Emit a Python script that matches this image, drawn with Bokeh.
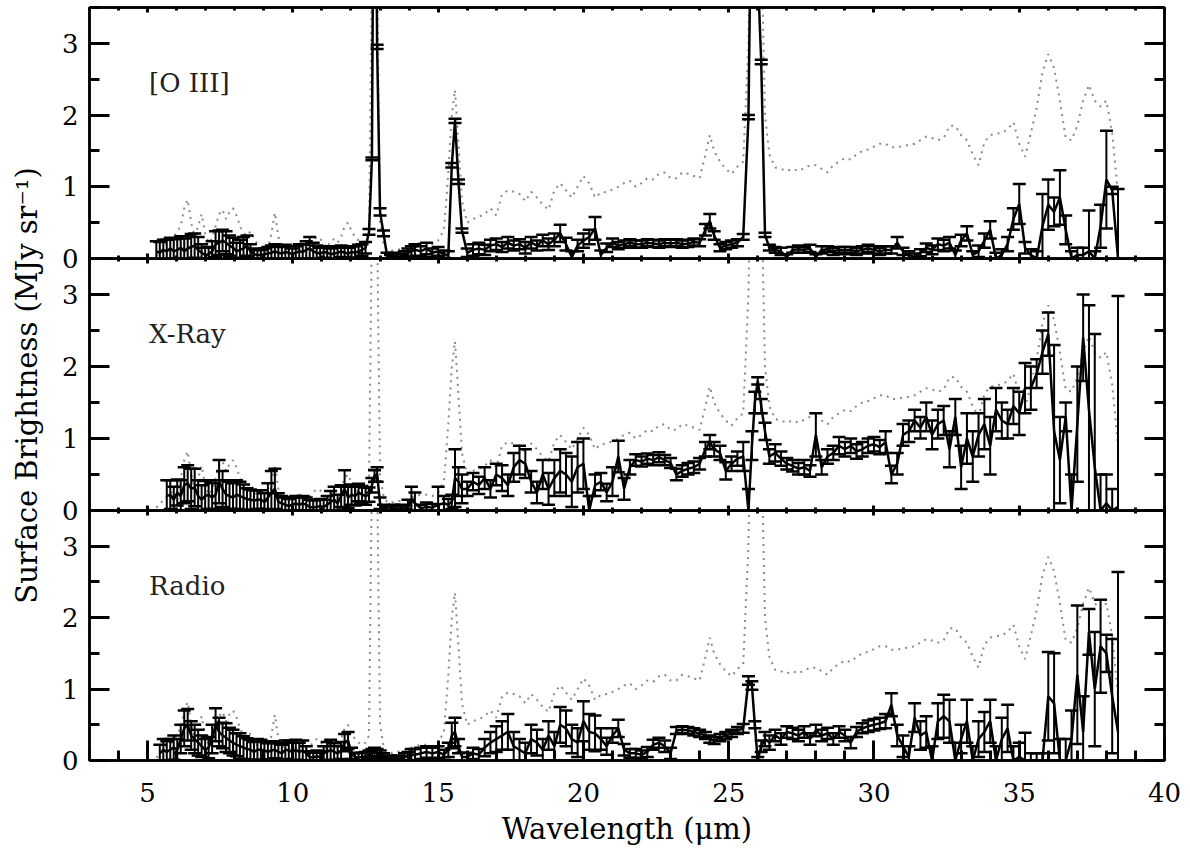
import math
from bokeh.plotting import figure
from bokeh.models import Range1d, LinearAxis, SingleIntervalTicker, Label
from bokeh.layouts import column, row
from bokeh.embed import file_html
from bokeh.resources import INLINE

nan = float("nan")

# ---------------- data ----------------
panel_names = ["[O III]", "X-Ray", "Radio"]
x_label = "Wavelength (\u03bcm)"
y_label = "Surface Brightness (MJy sr\u207b\u00b9)"

# short-wavelength grid
wl_sl = [
    5.30, 5.42, 5.54, 5.66, 5.78, 5.90, 6.02, 6.14, 6.26, 6.38,
    6.50, 6.62, 6.74, 6.86, 6.98, 7.10, 7.22, 7.34, 7.46, 7.58,
    7.70, 7.82, 7.94, 8.06, 8.18, 8.30, 8.42, 8.54, 8.66, 8.78,
    8.90, 9.02, 9.14, 9.26, 9.38, 9.50, 9.62, 9.74, 9.86, 9.98,
    10.10, 10.22, 10.34, 10.46, 10.58, 10.70, 10.82, 10.94, 11.06, 11.18,
    11.30, 11.42, 11.54, 11.66, 11.78, 11.90, 12.02, 12.14, 12.26, 12.38,
    12.50, 12.62, 12.72, 12.81, 12.90, 13.00, 13.12, 13.24, 13.36, 13.48,
    13.60, 13.72, 13.84, 13.96, 14.08]
# long-wavelength grid
wl_ll = [
    14.20, 14.40, 14.60, 14.80, 15.00, 15.20, 15.35, 15.47, 15.58, 15.70, 15.82,
    16.00, 16.20, 16.40, 16.60, 16.80, 17.00, 17.20, 17.40, 17.60, 17.80,
    18.00, 18.20, 18.40, 18.60, 18.80, 19.00, 19.20, 19.40, 19.60, 19.80,
    20.00, 20.20, 20.40, 20.60, 20.80, 21.00, 21.20, 21.40, 21.60, 21.80,
    22.00, 22.20, 22.40, 22.60, 22.80, 23.00, 23.20, 23.40, 23.60, 23.80,
    24.00, 24.20, 24.35, 24.50, 24.70, 24.90, 25.10, 25.30, 25.50, 25.68,
    25.80, 25.90, 26.00, 26.12, 26.25, 26.40, 26.60, 26.80, 27.00, 27.20,
    27.40, 27.60, 27.80, 28.00, 28.20, 28.40, 28.60, 28.80, 29.00, 29.20,
    29.40, 29.60, 29.80, 30.00, 30.20, 30.40, 30.60, 30.80, 31.00, 31.20,
    31.40, 31.60, 31.80, 32.00, 32.20, 32.40, 32.60, 32.80, 33.00, 33.20,
    33.40, 33.60, 33.80, 34.00, 34.20, 34.40, 34.60, 34.80, 35.00, 35.20,
    35.40, 35.60, 35.80, 36.00, 36.20, 36.40, 36.60, 36.80, 37.00, 37.20,
    37.40, 37.60, 37.80, 38.00, 38.20, 38.40]

# dotted comparison spectrum (same in all panels)
ref_sl = [
    0.04, 0.08, 0.15, 0.20, 0.22, 0.30, 0.38, 0.45, 0.70, 0.82,
    0.50, 0.30, 0.45, 0.62, 0.35, 0.22, 0.28, 0.45, 0.62, 0.68,
    0.55, 0.65, 0.70, 0.60, 0.45, 0.35, 0.32, 0.38, 0.28, 0.20,
    0.15, 0.12, 0.14, 0.35, 0.64, 0.30, 0.20, 0.18, 0.16, 0.15,
    0.18, 0.22, 0.20, 0.15, 0.20, 0.25, 0.30, 0.28, 0.20, 0.15,
    0.25, 0.27, 0.22, 0.30, 0.45, 0.50, 0.38, 0.30, 0.25, 0.22,
    0.25, 0.35, 4.00, 9.00, 4.00, 0.50, 0.20, 0.12, 0.10, 0.12,
    0.12, 0.14, 0.15, 0.15, 0.18]
ref_ll = [
    0.20, 0.22, 0.22, 0.20, 0.25, 0.40, 1.20, 2.00, 2.35, 1.60, 0.80,
    0.50, 0.55, 0.58, 0.62, 0.70, 0.60, 0.90, 0.95, 0.93, 0.90,
    0.80, 0.93, 0.85, 0.75, 0.68, 0.95, 1.05, 0.95, 0.85, 1.00,
    1.15, 1.05, 0.85, 0.92, 0.93, 0.96, 1.00, 1.05, 1.08, 1.00,
    1.05, 1.12, 1.10, 1.18, 1.20, 1.12, 1.12, 1.20, 1.18, 1.15,
    1.12, 1.45, 1.72, 1.50, 1.35, 1.25, 1.18, 1.28, 1.35, 3.00,
    6.00, 9.00, 7.00, 4.50, 2.00, 1.45, 1.27, 1.25, 1.22, 1.25,
    1.22, 1.26, 1.30, 1.30, 1.25, 1.20, 1.30, 1.35, 1.40, 1.38,
    1.45, 1.50, 1.52, 1.56, 1.60, 1.60, 1.55, 1.55, 1.57, 1.58,
    1.60, 1.65, 1.70, 1.68, 1.65, 1.68, 1.85, 1.85, 1.72, 1.65,
    1.45, 1.30, 1.62, 1.72, 1.74, 1.75, 1.80, 1.90, 1.60, 1.42,
    1.75, 2.10, 2.60, 2.85, 2.65, 2.20, 1.68, 1.65, 1.85, 2.20,
    2.42, 2.20, 2.12, 2.20, 1.75, 0.90]

# [O III] region
oiii_sl = [
    0.10, 0.08, 0.12, 0.10, 0.14, 0.10, 0.12, 0.15, 0.10, 0.14,
    0.16, 0.18, 0.12, 0.08, 0.05, 0.06, 0.10, 0.20, 0.22, 0.25,
    0.22, 0.18, 0.15, 0.10, 0.12, 0.14, 0.18, 0.10, 0.06, 0.05,
    0.05, 0.06, 0.07, 0.08, 0.10, 0.08, 0.07, 0.09, 0.08, 0.06,
    0.08, 0.10, 0.09, 0.12, 0.14, 0.10, 0.08, 0.07, 0.09, 0.08,
    0.06, 0.07, 0.08, 0.10, 0.08, 0.07, 0.09, 0.08, 0.10, 0.12,
    0.15, 0.37, 1.39, 8.00, 2.95, 0.65, 0.35, 0.04, 0.02, 0.04,
    0.03, 0.02, 0.05, 0.08, 0.10]
oiii_err_sl = [
    0.14, 0.15, 0.14, 0.16, 0.15, 0.17, 0.16, 0.16, 0.18, 0.17,
    0.18, 0.17, 0.18, 0.12, 0.10, 0.10, 0.14, 0.18, 0.17, 0.15,
    0.16, 0.14, 0.14, 0.12, 0.14, 0.16, 0.14, 0.10, 0.08, 0.07,
    0.07, 0.08, 0.09, 0.10, 0.10, 0.10, 0.09, 0.10, 0.09, 0.08,
    0.09, 0.10, 0.10, 0.12, 0.16, 0.12, 0.10, 0.08, 0.08, 0.09,
    0.08, 0.08, 0.09, 0.08, 0.08, 0.08, 0.08, 0.09, 0.09, 0.08,
    0.08, 0.04, 0.02, 0.20, 0.03, 0.05, 0.04, 0.04, 0.03, 0.04,
    0.04, 0.04, 0.05, 0.06, 0.07]
oiii_ll = [
    0.12, 0.10, 0.14, 0.08, 0.10, 0.06, 0.05, 1.30, 1.92, 1.07, 0.39,
    0.08, 0.12, 0.14, 0.12, 0.18, 0.20, 0.16, 0.22, 0.18, 0.20,
    0.15, 0.22, 0.18, 0.25, 0.20, 0.26, 0.35, 0.20, 0.02, 0.18,
    0.25, 0.30, 0.42, 0.05, 0.15, 0.22, 0.18, 0.20, 0.22, 0.20,
    0.20, 0.22, 0.21, 0.20, 0.22, 0.21, 0.22, 0.20, 0.21, 0.23,
    0.22, 0.40, 0.52, 0.32, 0.15, 0.18, 0.20, 0.22, 0.30, 1.97,
    6.00, 9.00, 4.00, 2.74, 0.33, 0.15, 0.12, 0.10, 0.02, 0.12,
    0.13, 0.12, 0.14, 0.02, 0.12, 0.13, 0.10, 0.12, 0.11, 0.12,
    0.10, 0.12, 0.14, 0.12, 0.10, 0.12, 0.12, 0.22, 0.10, 0.05,
    0.02, 0.08, 0.15, 0.12, 0.20, 0.18, 0.22, 0.05, 0.25, 0.35,
    0.05, 0.10, 0.25, 0.40, 0.00, 0.05, 0.20, 0.55, 0.76, 0.15,
    0.05, 0.00, 0.45, 0.75, 0.65, 0.85, 0.40, 0.00, 0.05, 0.05,
    0.10, 0.00, 0.45, 1.10, 0.95, 0.00]
oiii_err_ll = [
    0.08, 0.07, 0.08, 0.06, 0.06, 0.05, 0.05, 0.03, 0.03, 0.03, 0.03,
    0.06, 0.08, 0.08, 0.07, 0.08, 0.08, 0.07, 0.08, 0.07, 0.07,
    0.08, 0.08, 0.07, 0.08, 0.08, 0.09, 0.12, 0.09, 0.08, 0.08,
    0.10, 0.10, 0.16, 0.06, 0.06, 0.06, 0.05, 0.05, 0.05, 0.05,
    0.05, 0.05, 0.05, 0.05, 0.05, 0.05, 0.05, 0.05, 0.05, 0.05,
    0.05, 0.08, 0.10, 0.06, 0.05, 0.05, 0.05, 0.05, 0.04, 0.03,
    0.10, 0.20, 0.05, 0.03, 0.03, 0.04, 0.04, 0.05, 0.04, 0.04,
    0.05, 0.04, 0.05, 0.04, 0.05, 0.04, 0.05, 0.04, 0.05, 0.04,
    0.05, 0.05, 0.05, 0.05, 0.05, 0.05, 0.05, 0.08, 0.05, 0.05,
    0.05, 0.05, 0.06, 0.06, 0.08, 0.08, 0.08, 0.06, 0.08, 0.10,
    0.05, 0.08, 0.10, 0.12, 0.08, 0.08, 0.10, 0.15, 0.28, 0.08,
    0.08, 0.10, 0.45, 0.35, 0.20, 0.38, 0.20, 0.10, 0.10, 0.10,
    0.57, 0.10, 0.30, 0.68, 0.05, 0.97]

# X-ray region
xray_sl = [
    nan, nan, nan, 0.20, 0.22, 0.15, 0.25, 0.20, 0.35, 0.38,
    0.30, 0.32, 0.20, 0.15, 0.20, 0.22, 0.18, 0.22, 0.40, 0.30,
    0.22, 0.20, 0.18, 0.22, 0.20, 0.18, 0.16, 0.15, 0.14, 0.15,
    0.15, 0.12, 0.18, 0.25, 0.30, 0.12, 0.10, 0.08, 0.06, 0.08,
    0.10, 0.08, 0.10, 0.08, 0.05, 0.04, 0.05, 0.06, 0.05, 0.08,
    0.12, 0.15, 0.10, 0.20, 0.30, 0.18, 0.22, 0.20, 0.25, 0.22,
    0.20, 0.22, 0.35, 0.48, 0.50, 0.10, 0.02, 0.00, 0.02, 0.03,
    0.02, 0.03, 0.02, 0.05, 0.15]
xray_err_sl = [
    0.00, 0.00, 0.00, 0.22, 0.20, 0.18, 0.18, 0.22, 0.25, 0.25,
    0.28, 0.26, 0.22, 0.20, 0.21, 0.20, 0.20, 0.20, 0.30, 0.25,
    0.20, 0.20, 0.20, 0.20, 0.20, 0.18, 0.15, 0.14, 0.14, 0.13,
    0.13, 0.12, 0.20, 0.30, 0.28, 0.12, 0.10, 0.10, 0.10, 0.10,
    0.10, 0.10, 0.10, 0.10, 0.10, 0.10, 0.10, 0.10, 0.10, 0.12,
    0.15, 0.18, 0.12, 0.15, 0.26, 0.15, 0.14, 0.13, 0.12, 0.12,
    0.12, 0.10, 0.10, 0.08, 0.10, 0.08, 0.06, 0.05, 0.05, 0.05,
    0.04, 0.05, 0.05, 0.10, 0.18]
xray_ll = [
    0.10, 0.03, 0.05, 0.04, 0.08, 0.10, 0.08, 0.12, 0.45, 0.40, 0.30,
    0.30, 0.40, 0.35, 0.45, 0.30, 0.50, 0.45, 0.35, 0.60, 0.70,
    0.65, 0.40, 0.25, 0.50, 0.30, 0.45, 0.55, 0.50, 0.40, 0.60,
    0.65, 0.00, 0.35, 0.40, 0.25, 0.40, 0.75, 0.30, 0.60, 0.70,
    0.68, 0.72, 0.70, 0.74, 0.70, 0.66, 0.50, 0.55, 0.58, 0.60,
    0.65, 0.85, 0.95, 0.85, 0.80, 0.55, 0.65, 0.72, 0.75, 0.00,
    0.90, 1.50, 1.80, 1.45, 1.10, 0.75, 0.80, 0.72, 0.65, 0.62,
    0.58, 0.60, 0.55, 1.05, 0.60, 0.75, 0.80, 0.90, 0.85, 0.90,
    0.82, 0.85, 0.90, 0.92, 0.88, 0.95, 0.50, 0.65, 1.05, 1.10,
    1.25, 1.15, 1.30, 1.05, 1.20, 1.25, 0.85, 1.30, 0.60, 1.00,
    0.75, 1.05, 1.20, 0.90, 1.40, 1.25, 1.20, 1.45, 1.35, 1.70,
    1.70, 1.90, 2.20, 2.45, 1.10, 0.70, 1.30, 0.00, 1.20, 2.40,
    1.40, 0.60, 0.00, 0.10, 0.00, 0.05]
xray_err_ll = [
    0.15, 0.05, 0.06, 0.05, 0.25, 0.10, 0.08, 0.10, 0.40, 0.20, 0.20,
    0.10, 0.12, 0.12, 0.15, 0.12, 0.15, 0.18, 0.15, 0.20, 0.20,
    0.20, 0.15, 0.15, 0.20, 0.22, 0.25, 0.30, 0.30, 0.35, 0.35,
    0.35, 0.20, 0.15, 0.12, 0.12, 0.20, 0.22, 0.15, 0.10, 0.08,
    0.07, 0.07, 0.07, 0.07, 0.07, 0.07, 0.08, 0.08, 0.08, 0.08,
    0.08, 0.10, 0.10, 0.10, 0.10, 0.12, 0.10, 0.10, 0.20, 0.30,
    0.20, 0.15, 0.05, 0.10, 0.12, 0.10, 0.12, 0.10, 0.08, 0.08,
    0.08, 0.10, 0.08, 0.30, 0.10, 0.10, 0.10, 0.12, 0.10, 0.10,
    0.10, 0.10, 0.10, 0.10, 0.10, 0.15, 0.12, 0.15, 0.15, 0.15,
    0.15, 0.15, 0.20, 0.20, 0.20, 0.20, 0.25, 0.25, 0.30, 0.35,
    0.35, 0.30, 0.35, 0.40, 0.30, 0.25, 0.20, 0.25, 0.30, 0.35,
    0.30, 0.20, 0.30, 0.30, 1.20, 0.60, 0.20, 0.50, 0.80, 0.60,
    1.45, 1.85, 0.50, 0.40, 0.30, 2.93]

# Radio region
radio_sl = [
    nan, 0.10, 0.15, 0.12, 0.15, 0.18, 0.15, 0.30, 0.45, 0.50,
    0.35, 0.30, 0.25, 0.20, 0.15, 0.18, 0.30, 0.50, 0.40, 0.35,
    0.32, 0.28, 0.25, 0.22, 0.20, 0.18, 0.16, 0.15, 0.12, 0.15,
    0.15, 0.14, 0.12, 0.14, 0.15, 0.12, 0.10, 0.15, 0.14, 0.12,
    0.15, 0.12, 0.14, 0.10, 0.05, 0.04, 0.06, 0.05, 0.10, 0.12,
    0.15, 0.12, 0.10, 0.14, 0.25, 0.28, 0.10, 0.05, 0.04, 0.05,
    0.06, 0.08, 0.10, 0.12, 0.10, 0.08, 0.05, 0.02, 0.03, 0.02,
    0.03, 0.02, 0.05, 0.06, 0.08]
radio_err_sl = [
    0.00, 0.12, 0.15, 0.15, 0.15, 0.17, 0.15, 0.20, 0.25, 0.22,
    0.20, 0.20, 0.18, 0.15, 0.15, 0.15, 0.20, 0.23, 0.20, 0.18,
    0.20, 0.18, 0.18, 0.16, 0.18, 0.16, 0.15, 0.14, 0.14, 0.15,
    0.14, 0.13, 0.12, 0.13, 0.12, 0.12, 0.12, 0.13, 0.14, 0.13,
    0.14, 0.13, 0.14, 0.10, 0.08, 0.07, 0.08, 0.08, 0.10, 0.14,
    0.14, 0.12, 0.10, 0.12, 0.12, 0.12, 0.08, 0.06, 0.06, 0.06,
    0.06, 0.06, 0.06, 0.06, 0.06, 0.06, 0.05, 0.04, 0.04, 0.04,
    0.04, 0.04, 0.05, 0.06, 0.08]
radio_ll = [
    0.08, 0.10, 0.12, 0.10, 0.12, 0.08, 0.15, 0.35, 0.40, 0.20, 0.05,
    0.05, 0.10, 0.08, 0.18, 0.25, 0.30, 0.35, 0.40, 0.20, 0.15,
    0.10, 0.30, 0.25, 0.15, 0.35, 0.20, 0.50, 0.45, 0.30, 0.25,
    0.55, 0.40, 0.38, 0.30, 0.20, 0.35, 0.45, 0.15, 0.10, 0.10,
    0.08, 0.12, 0.22, 0.25, 0.20, 0.10, 0.42, 0.43, 0.42, 0.40,
    0.38, 0.35, 0.30, 0.28, 0.32, 0.35, 0.38, 0.42, 0.45, 1.12,
    1.05, 0.50, 0.00, 0.20, 0.30, 0.25, 0.35, 0.30, 0.40, 0.38,
    0.35, 0.40, 0.30, 0.42, 0.35, 0.38, 0.30, 0.40, 0.35, 0.25,
    0.40, 0.45, 0.48, 0.50, 0.52, 0.55, 0.78, 0.35, 0.20, 0.05,
    0.60, 0.35, 0.40, 0.00, 0.55, 0.62, 0.55, 0.00, 0.30, 0.55,
    0.00, 0.30, 0.40, 0.55, 0.00, 0.30, 0.45, 0.00, 0.05, 0.00,
    0.00, 0.00, 0.00, 0.90, 0.80, 0.00, 0.00, 0.30, 1.20, 0.40,
    1.80, 1.00, 1.60, 1.50, 0.90, 0.40]
radio_err_ll = [
    0.08, 0.08, 0.08, 0.08, 0.08, 0.07, 0.10, 0.18, 0.20, 0.10, 0.06,
    0.06, 0.08, 0.08, 0.12, 0.15, 0.18, 0.20, 0.25, 0.20, 0.15,
    0.15, 0.20, 0.18, 0.15, 0.20, 0.20, 0.25, 0.25, 0.20, 0.20,
    0.28, 0.25, 0.25, 0.15, 0.12, 0.10, 0.12, 0.08, 0.06, 0.06,
    0.06, 0.07, 0.07, 0.07, 0.08, 0.08, 0.05, 0.05, 0.05, 0.05,
    0.05, 0.05, 0.05, 0.05, 0.05, 0.05, 0.05, 0.05, 0.06, 0.06,
    0.06, 0.05, 0.05, 0.08, 0.10, 0.10, 0.08, 0.08, 0.08, 0.08,
    0.08, 0.08, 0.08, 0.08, 0.08, 0.08, 0.08, 0.08, 0.08, 0.08,
    0.07, 0.07, 0.08, 0.08, 0.08, 0.10, 0.16, 0.15, 0.15, 0.15,
    0.20, 0.20, 0.22, 0.20, 0.25, 0.30, 0.30, 0.25, 0.20, 0.30,
    0.20, 0.25, 0.28, 0.30, 0.20, 0.30, 0.33, 0.20, 0.20, 0.39,
    0.10, 0.10, 0.10, 0.62, 0.70, 0.30, 0.30, 0.40, 0.97, 0.50,
    0.32, 0.80, 0.65, 0.26, 0.80, 2.24]

# ---------------- assemble ----------------
wl = wl_sl + wl_ll
ref = ref_sl + ref_ll
series = [
    (oiii_sl + oiii_ll, oiii_err_sl + oiii_err_ll),
    (xray_sl + xray_ll, xray_err_sl + xray_err_ll),
    (radio_sl + radio_ll, radio_err_sl + radio_err_ll),
]
lens = [len(wl), len(ref)] + [len(a) for s in series for a in s]
assert len(set(lens)) == 1, f"length mismatch: {lens}"

FONT = "DejaVu Serif"
FS = "26px"
TITLE_FS = "29px"
X_RANGE = Range1d(3, 40)
LAB_W = 50          # width of the strip holding the y-axis title
W = 1184 - LAB_W
OVER = 18           # overlap between stacked panels (room for "0" labels)


def style_axis(ax, tick_in, minor_in, show_labels, standoff=11):
    ax.major_tick_in = tick_in
    ax.major_tick_out = 0
    ax.minor_tick_in = minor_in
    ax.minor_tick_out = 0
    ax.major_tick_line_width = 3
    ax.minor_tick_line_width = 3
    ax.major_tick_line_color = "black"
    ax.minor_tick_line_color = "black"
    ax.axis_line_width = 2.5
    ax.axis_line_color = "black"
    ax.major_label_text_font = FONT
    ax.major_label_standoff = standoff
    if show_labels:
        ax.major_label_text_font_size = FS
        ax.major_label_text_color = "black"
    else:
        ax.major_label_text_font_size = "0px"
        ax.major_label_text_color = None
    ax.axis_label_text_font = FONT
    ax.axis_label_text_font_size = TITLE_FS
    ax.axis_label_text_font_style = "normal"
    ax.axis_label_text_color = "black"


def make_panel(idx, height, top_b, bottom_b):
    vals, errs = series[idx]
    p = figure(width=W, height=height, x_range=X_RANGE, y_range=Range1d(0, 3.5),
               output_backend="svg", toolbar_location=None,
               min_border_left=89 - LAB_W, min_border_right=20,
               min_border_top=top_b, min_border_bottom=bottom_b)
    p.grid.visible = False
    p.outline_line_color = "black"
    p.outline_line_width = 2.5
    p.background_fill_alpha = 0
    p.border_fill_alpha = 0

    last = idx == 2
    xa = p.xaxis[0]
    xa.ticker = SingleIntervalTicker(interval=5, num_minor_ticks=5)
    if last:
        style_axis(xa, 20, 10, True, standoff=22)
        xa.axis_label = x_label
        xa.axis_label_standoff = 7
    else:
        style_axis(xa, 5, 3, False, standoff=0)
    ta = LinearAxis(ticker=SingleIntervalTicker(interval=5, num_minor_ticks=5))
    style_axis(ta, 5, 3, False, standoff=0)
    p.add_layout(ta, "above")
    ya = p.yaxis[0]
    ya.ticker = SingleIntervalTicker(interval=1, num_minor_ticks=2)
    style_axis(ya, 20, 10, True, standoff=11)
    ra = LinearAxis(ticker=SingleIntervalTicker(interval=1, num_minor_ticks=2))
    style_axis(ra, 20, 10, False, standoff=0)
    p.add_layout(ra, "right")

    p.line(wl, ref, line_color="#8a8a8a", line_width=2, line_dash="2 5")

    up = [v + e if not math.isnan(v) else nan for v, e in zip(vals, errs)]
    lo = [v - e if not math.isnan(v) else nan for v, e in zip(vals, errs)]
    p.segment(x0=wl, y0=lo, x1=wl, y1=up, line_color="black", line_width=2)
    p.scatter(wl, up, marker="dash", size=13, line_color="black", line_width=2.5)
    p.scatter(wl, lo, marker="dash", size=13, line_color="black", line_width=2.5)
    p.line(wl, vals, line_color="black", line_width=2.5)

    p.add_layout(Label(x=5.05, y=2.45, text=panel_names[idx], text_font=FONT,
                       text_font_size=FS, text_color="#222222",
                       text_baseline="alphabetic"))
    return p


p1 = make_panel(0, 258 + OVER, 7, OVER)
p2 = make_panel(1, 252 + OVER, 0, OVER)
p3 = make_panel(2, 338, 0, 85)
p2.margin = (-OVER, 0, 0, 0)
p3.margin = (-OVER, 0, 0, 0)

# strip with the shared y-axis title
TOTAL_H = 848
lab = figure(width=LAB_W, height=TOTAL_H, x_range=Range1d(0, LAB_W),
             y_range=Range1d(0, TOTAL_H), output_backend="svg",
             toolbar_location=None, x_axis_location=None, y_axis_location=None,
             min_border=0, outline_line_color=None)
lab.grid.visible = False
lab.add_layout(Label(x=26, y=TOTAL_H - 385, text=y_label, angle=90, angle_units="deg",
                     text_font=FONT, text_font_size=TITLE_FS, text_color="black",
                     text_align="center", text_baseline="middle"))

layout = row(lab, column(p1, p2, p3, spacing=0), spacing=0)
open("out.html", "w").write(file_html(layout, INLINE, title="Surface brightness spectra"))
